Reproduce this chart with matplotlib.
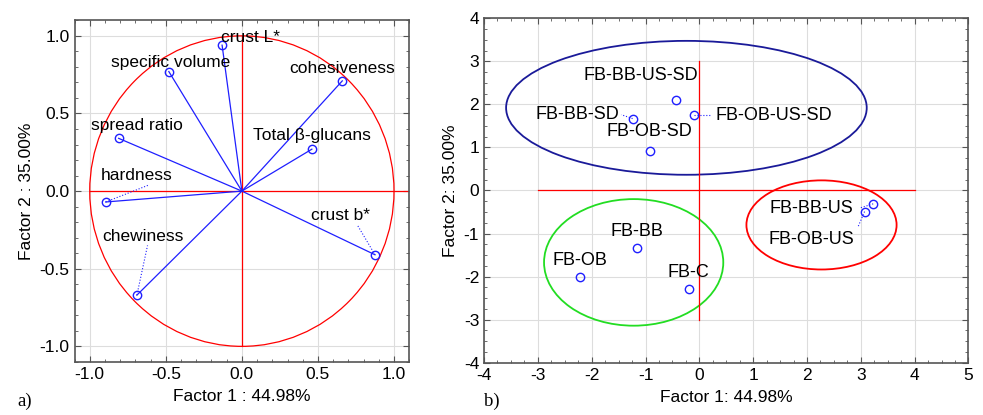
import numpy as np
import matplotlib.pyplot as plt
from matplotlib.patches import Ellipse, Circle
from matplotlib.ticker import MultipleLocator

plt.rcParams['font.family'] = ['Liberation Sans', 'DejaVu Sans']
plt.rcParams['axes.unicode_minus'] = False

# a) loadings of the variables
var_names = ['crust L*', 'specific volume', 'cohesiveness', 'spread ratio',
             'Total β-glucans', 'hardness', 'chewiness', 'crust b*']
var_f1 = [-0.13, -0.48, 0.66, -0.81, 0.46, -0.895, -0.69, 0.875]
var_f2 = [0.94, 0.77, 0.71, 0.34, 0.27, -0.07, -0.67, -0.41]

# b) scores of the samples
smp_names = ['FB-BB-US-SD', 'FB-BB-SD', 'FB-OB-US-SD', 'FB-OB-SD',
             'FB-BB-US', 'FB-OB-US', 'FB-BB', 'FB-OB', 'FB-C']
smp_f1 = [-0.43, -1.24, -0.10, -0.92, 3.23, 3.07, -1.16, -2.22, -0.20]
smp_f2 = [2.10, 1.67, 1.76, 0.92, -0.31, -0.49, -1.34, -2.02, -2.28]

blue = '#1f1fff'
fs = 12.5

fig = plt.figure(figsize=(9.83, 4.15), dpi=100)
ax1 = fig.add_axes([0.0758, 0.128, 0.3405, 0.823])
ax2 = fig.add_axes([0.4924, 0.126, 0.4928, 0.830])


def style(ax, minor):
    ax.xaxis.set_minor_locator(MultipleLocator(minor[0]))
    ax.yaxis.set_minor_locator(MultipleLocator(minor[1]))
    ax.tick_params(which='both', direction='in', top=True, right=True,
                   color='#555555', labelsize=fs)
    ax.tick_params(which='major', length=4)
    ax.tick_params(which='minor', length=2.5)
    ax.grid(True, color='#dddddd', lw=0.8)
    ax.set_axisbelow(True)
    for s in ax.spines.values():
        s.set_color('#555555')
        s.set_linewidth(1.2)


# ---- a) ----
ax1.set_xlim(-1.1, 1.1)
ax1.set_ylim(-1.1, 1.1)
ax1.set_xticks([-1.0, -0.5, 0.0, 0.5, 1.0])
ax1.set_yticks([-1.0, -0.5, 0.0, 0.5, 1.0])
ax1.xaxis.set_major_formatter(lambda v, p: f'{v:.1f}')
ax1.yaxis.set_major_formatter(lambda v, p: f'{v:.1f}')
style(ax1, (0.1, 0.1))
ax1.add_patch(Circle((0, 0), 1.0, fill=False, color='red', lw=0.9))
ax1.plot([-1.0, 1.1], [0, 0], color='red', lw=0.9)
ax1.plot([0, 0], [-1.0, 1.0], color='red', lw=0.9)
for x, y in zip(var_f1, var_f2):
    ax1.plot([0, x], [0, y], color=blue, lw=0.9)
ax1.plot(var_f1, var_f2, 'o', mfc='none', mec=blue, ms=6, mew=1.0)

lab1 = {
    'crust L*': (0.06, 0.99, None),
    'specific volume': (-0.47, 0.83, None),
    'cohesiveness': (0.66, 0.79, None),
    'spread ratio': (-0.69, 0.42, None),
    'Total β-glucans': (0.46, 0.36, None),
    'hardness': (-0.69, 0.10, (-0.61, 0.04)),
    'chewiness': (-0.65, -0.29, (-0.62, -0.35)),
    'crust b*': (0.65, -0.16, (0.76, -0.22)),
}
for name, x, y in zip(var_names, var_f1, var_f2):
    tx, ty, lead = lab1[name]
    ax1.text(tx, ty, name, ha='center', va='center', fontsize=fs)
    if lead is not None:
        ax1.plot([x, lead[0]], [y, lead[1]], color=blue, lw=0.8, ls=':')

ax1.set_xlabel('Factor 1 : 44.98%', fontsize=fs, labelpad=5)
ax1.set_ylabel('Factor 2 : 35.00%', fontsize=fs, labelpad=4)
fig.text(0.018, 0.022, 'a)', fontsize=fs + 1, family='Liberation Serif')

# ---- b) ----
ax2.set_xlim(-4, 5)
ax2.set_ylim(-4, 4)
ax2.set_xticks(np.arange(-4, 6))
ax2.set_yticks(np.arange(-4, 5))
style(ax2, (0.25, 0.25))
ax2.plot([-3, 4], [0, 0], color='red', lw=0.9)
ax2.plot([0, 0], [-3, 3], color='red', lw=0.9)
ax2.add_patch(Ellipse((-0.24, 1.92), 6.70, 3.11, fill=False, color='#1a1a99', lw=1.3))
ax2.add_patch(Ellipse((-1.22, -1.67), 3.33, 2.94, fill=False, color='#22dd22', lw=1.3))
ax2.add_patch(Ellipse((2.27, -0.80), 2.79, 2.07, fill=False, color='red', lw=1.3))
ax2.plot(smp_f1, smp_f2, 'o', mfc='none', mec=blue, ms=6, mew=1.0)

lab2 = {
    'FB-BB-US-SD': (-1.08, 2.68, 'center', None),
    'FB-BB-SD': (-1.48, 1.77, 'right', (-1.45, 1.76)),
    'FB-OB-US-SD': (0.30, 1.73, 'left', (0.22, 1.76)),
    'FB-OB-SD': (-0.92, 1.38, 'center', None),
    'FB-BB-US': (2.86, -0.41, 'right', (3.0, -0.40)),
    'FB-OB-US': (2.87, -1.15, 'right', (2.95, -0.84)),
    'FB-BB': (-1.16, -0.96, 'center', None),
    'FB-OB': (-2.22, -1.62, 'center', None),
    'FB-C': (-0.20, -1.90, 'center', None),
}
for name, x, y in zip(smp_names, smp_f1, smp_f2):
    tx, ty, ha, lead = lab2[name]
    ax2.text(tx, ty, name, ha=ha, va='center', fontsize=fs + 0.5)
    if lead is not None:
        ax2.plot([x, lead[0]], [y, lead[1]], color=blue, lw=0.8, ls=':')

ax2.set_xlabel('Factor 1: 44.98%', fontsize=fs, labelpad=5)
ax2.set_ylabel('Factor 2: 35.00%', fontsize=fs, labelpad=4)
fig.text(0.492, 0.022, 'b)', fontsize=fs + 1, family='Liberation Serif')

fig.savefig('out.png', dpi=100)
